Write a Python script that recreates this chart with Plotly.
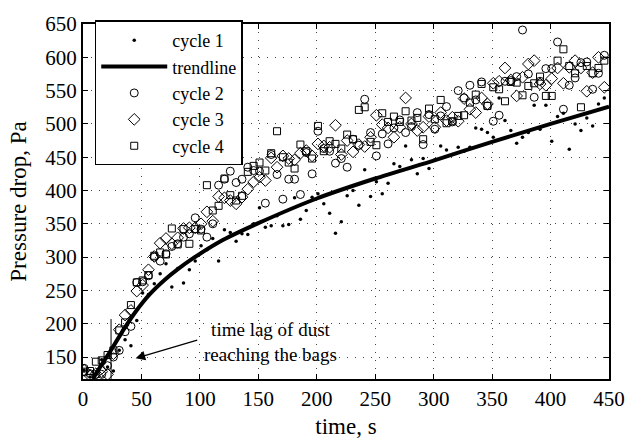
import plotly.graph_objects as go

# time stamps shared by all cycles (s)
time_s = [1 + 5 * k for k in range(90)]

cycle1 = [130, 120, 125, 146, 135, 129, 160, 176, 167, 205, 246, 244, 260, 275, 290, 255, 283, 261, 281, 294,
          317, 311, 328, 294, 341, 337, 324, 335, 334, 350, 374, 345, 347, 362, 347, 349, 389, 357, 370, 390,
          395, 380, 366, 336, 353, 392, 400, 378, 431, 391, 413, 395, 411, 440, 436, 467, 446, 425, 448, 433,
          446, 467, 461, 454, 465, 459, 465, 494, 492, 487, 480, 539, 505, 490, 471, 480, 487, 528, 492, 528,
          474, 511, 516, 462, 500, 490, 509, 497, 530, 539]

cycle2 = [133, 125, 124, 124, 137, 150, 160, 188, 196, 262, 263, 272, 300, 294, 305, 316, 320, 330, 335, 359,
          342, 330, 350, 408, 417, 429, 412, 417, 435, 430, 429, 381, 454, 424, 387, 417, 417, 394, 457, 425,
          489, 463, 459, 441, 448, 435, 477, 468, 537, 487, 452, 485, 470, 494, 506, 487, 496, 517, 469, 514,
          492, 512, 526, 503, 550, 539, 558, 536, 563, 527, 504, 513, 564, 565, 571, 641, 575, 540, 564, 583,
          583, 623, 522, 558, 569, 592, 593, 552, 576, 603]

cycle3 = [130, 122, 125, 128, 124, 155, 191, 213, 220, 249, 258, 281, 301, 321, 328, 320, 329, 343, 344, 344,
          350, 368, 354, 391, 389, 385, 380, 390, 402, 413, 420, 415, 449, 435, 452, 448, 446, 456, 460, 452,
          470, 467, 465, 498, 454, 475, 458, 469, 466, 480, 513, 499, 494, 480, 495, 539, 500, 490, 495, 511,
          495, 517, 505, 510, 504, 538, 522, 517, 539, 530, 561, 564, 584, 566, 542, 570, 590, 595, 560, 558,
          568, 584, 561, 585, 595, 584, 549, 577, 600, 555]

cycle4 = [128, 129, 143, 145, 153, 160, 190, 202, 228, 262, 265, 273, 302, 307, 304, 343, 319, 342, 320, 342,
          340, 408, 370, 377, 418, 393, 385, 392, 428, 437, 442, 430, 456, 489, 450, 442, 433, 469, 459, 448,
          497, 459, 474, 470, 463, 484, 477, 521, 525, 473, 468, 516, 503, 511, 503, 519, 505, 509, 477, 523,
          507, 536, 501, 504, 512, 513, 532, 544, 560, 527, 555, 552, 534, 563, 562, 543, 557, 561, 571, 542,
          542, 595, 612, 587, 576, 525, 587, 576, 584, 595]

trend_t = [8.4, 15, 21, 28, 35, 45, 57, 70, 82, 94, 120, 150, 200, 250, 300, 350, 400, 450]
trend_p = [117, 136, 152, 172, 192, 218, 244, 266, 283, 298, 326, 351, 388, 418, 445, 473, 500, 526]

x_ticks = [0, 50, 100, 150, 200, 250, 300, 350, 400, 450]
y_ticks = [150, 200, 250, 300, 350, 400, 450, 500, 550, 600, 650]

FONT = "'Liberation Serif', 'Times New Roman', Times, serif"

fig = go.Figure()
fig.add_trace(go.Scatter(x=time_s, y=cycle1, mode="markers", name="cycle 1",
                         marker=dict(symbol="circle", size=3.5, color="black")))
fig.add_trace(go.Scatter(x=trend_t, y=trend_p, mode="lines", name="trendline",
                         line=dict(color="black", width=4, shape="spline", smoothing=0.6)))
fig.add_trace(go.Scatter(x=time_s, y=cycle2, mode="markers", name="cycle 2",
                         marker=dict(symbol="circle-open", size=8, color="black", line=dict(width=1))))
fig.add_trace(go.Scatter(x=time_s, y=cycle3, mode="markers", name="cycle 3",
                         marker=dict(symbol="diamond-open", size=9, color="black", line=dict(width=1))))
fig.add_trace(go.Scatter(x=time_s, y=cycle4, mode="markers", name="cycle 4",
                         marker=dict(symbol="square-open", size=7, color="black", line=dict(width=1))))

# vertical marker line and annotation
fig.add_shape(type="line", x0=24, x1=24, y0=117, y1=207, xref="x", yref="y",
              line=dict(color="black", width=1))
fig.add_annotation(x=45, y=148, ax=99, ay=176, axref="x", ayref="y", xref="x", yref="y",
                   text="", showarrow=True, arrowhead=2, arrowsize=1.6, arrowwidth=1.2,
                   arrowcolor="black")
fig.add_annotation(x=160, y=172, xref="x", yref="y", text="time lag of dust<br>reaching the bags",
                   showarrow=False, font=dict(family=FONT, size=19, color="black"), align="center")

axis_common = dict(showline=True, linecolor="black", linewidth=2, mirror="ticks",
                   ticks="inside", ticklen=5, tickcolor="black", tickwidth=1,
                   showgrid=True, gridcolor="#444", gridwidth=1, griddash="1px,7px",
                   zeroline=False, tickfont=dict(family=FONT, size=21, color="black"))

fig.update_xaxes(range=[0, 450], tickvals=x_ticks,
                 title=dict(text="time, s", font=dict(family=FONT, size=23, color="black"), standoff=8),
                 **axis_common)
fig.update_yaxes(range=[117, 650], tickvals=y_ticks,
                 title=dict(text="Pressure drop, Pa", font=dict(family=FONT, size=23, color="black"), standoff=12),
                 **axis_common)

fig.update_layout(
    width=637, height=447,
    margin=dict(l=83, r=17, t=14, b=59),
    paper_bgcolor="white", plot_bgcolor="white",
    font=dict(family=FONT, color="black"),
    legend=dict(x=0.0223, y=1.01, xanchor="left", yanchor="top",
                bgcolor="white", bordercolor="black", borderwidth=1.5,
                font=dict(family=FONT, size=18, color="black"),
                itemwidth=66, tracegroupgap=0),
    showlegend=True,
)

fig.write_html("out.html")
